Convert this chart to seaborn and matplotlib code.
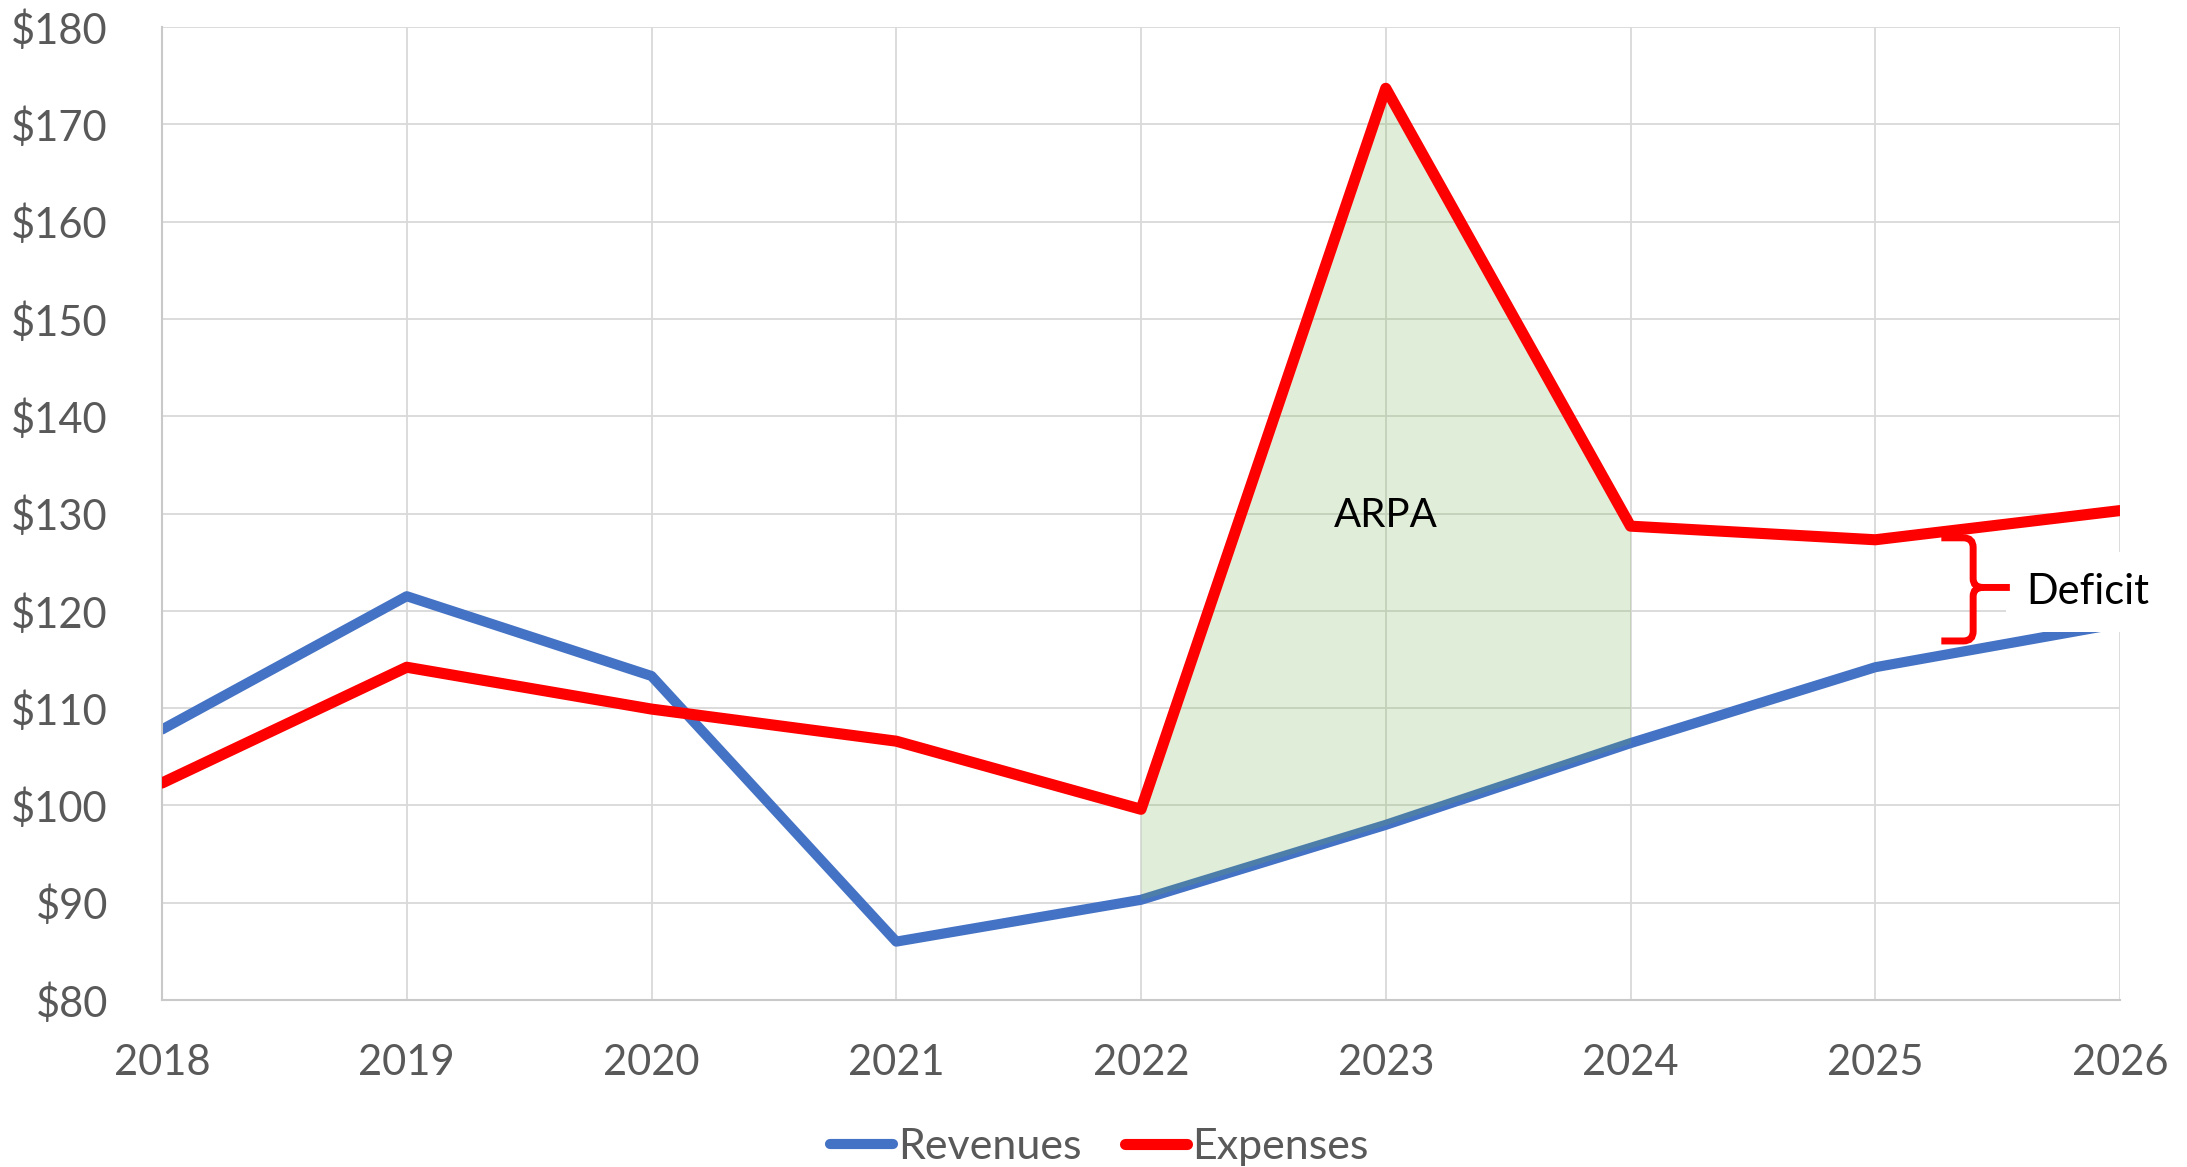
import matplotlib
matplotlib.use("Agg")
import matplotlib.pyplot as plt
import seaborn as sns
import pandas as pd
from matplotlib.path import Path
from matplotlib.patches import PathPatch

# ---- data ----
years = [2018, 2019, 2020, 2021, 2022, 2023, 2024, 2025, 2026]
revenues = [107.8, 121.5, 113.3, 86.0, 90.3, 98.0, 106.4, 114.2, 118.7]
expenses = [102.3, 114.2, 109.9, 106.6, 99.6, 173.7, 128.7, 127.3, 130.3]
series_names = ["Revenues", "Expenses"]
y_ticks = [80, 90, 100, 110, 120, 130, 140, 150, 160, 170, 180]
y_tick_labels = ["$80", "$90", "$100", "$110", "$120", "$130", "$140",
                 "$150", "$160", "$170", "$180"]
arpa_years = years[4:7]
arpa_label = "ARPA"
deficit_label = "Deficit"

sns.set_theme(style="white")
plt.rcParams["font.family"] = ["Lato", "DejaVu Sans"]

df = pd.DataFrame({
    "Year": years * 2,
    "Value": revenues + expenses,
    "Series": [series_names[0]] * len(years) + [series_names[1]] * len(years),
})

W, H = 2187, 1167
fig = plt.figure(figsize=(W / 100, H / 100), dpi=100)
ax = fig.add_axes([162 / W, 1 - 1000 / H, (2120 - 162) / W, (1000 - 27) / H])

palette = {"Revenues": "#4472C4", "Expenses": "#FF0000"}
sns.lineplot(data=df, x="Year", y="Value", hue="Series", palette=palette,
             linewidth=7.5, ax=ax, sort=False)

for ln in ax.lines:
    ln.set_solid_joinstyle("round")
ax.lines[0].set_zorder(2)
ax.lines[0].set_linewidth(7.3)
ax.lines[1].set_zorder(4)
ax.lines[1].set_linewidth(8.0)

# ARPA shaded area (semi-transparent, on top of revenues line)
i0, i1 = years.index(arpa_years[0]), years.index(arpa_years[-1]) + 1
ax.fill_between(arpa_years, revenues[i0:i1], expenses[i0:i1],
                color="#70AD47", alpha=0.21, linewidth=0, zorder=3)

ax.set_xlim(years[0], years[-1])
ax.set_ylim(y_ticks[0], y_ticks[-1])
ax.set_xticks(years)
ax.set_xticklabels([str(y) for y in years])
ax.set_yticks(y_ticks)
ax.set_yticklabels(y_tick_labels)
ax.set_xlabel("")
ax.set_ylabel("")

ax.grid(True, color="#d9d9d9", linewidth=1.3)
ax.set_axisbelow(True)
for s in ["top", "right"]:
    ax.spines[s].set_visible(False)
for s in ["left", "bottom"]:
    ax.spines[s].set_color("#c9c9c9")
    ax.spines[s].set_linewidth(1.5)

ax.tick_params(axis="y", length=0, pad=39, labelsize=30, labelcolor="#595959")
ax.tick_params(axis="x", length=0, pad=32, labelsize=30, labelcolor="#595959")

# annotations
ax.text(2023.0, 129.8, arpa_label, ha="center", va="center", fontsize=29,
        color="black", zorder=5)
ax.text(2025.87, 121.9, deficit_label, ha="center", va="center", fontsize=30,
        color="black", zorder=5, clip_on=False,
        bbox=dict(facecolor="white", edgecolor="none", boxstyle="square,pad=0.5"))

# curly brace
x0, xs, xt = 2025.27, 2025.40, 2025.55
top, mid, bot = 127.5, 122.4, 116.9
verts = [
    (x0, top), (2025.36, top),
    (xs, top), (xs, top - 1.0),
    (xs, mid + 0.9),
    (xs, mid), (2025.44, mid),
    (xt, mid),
    (2025.44, mid),
    (xs, mid), (xs, mid - 0.9),
    (xs, bot + 1.0),
    (xs, bot), (2025.36, bot),
    (x0, bot),
]
codes = [Path.MOVETO, Path.LINETO,
         Path.CURVE3, Path.CURVE3,
         Path.LINETO,
         Path.CURVE3, Path.CURVE3,
         Path.LINETO,
         Path.MOVETO,
         Path.CURVE3, Path.CURVE3,
         Path.LINETO,
         Path.CURVE3, Path.CURVE3,
         Path.LINETO]
brace = PathPatch(Path(verts, codes), facecolor="none", edgecolor="#FF0000",
                  linewidth=5, zorder=6, clip_on=False, capstyle="butt")
ax.add_patch(brace)

# legend
handles, labels = ax.get_legend_handles_labels()
if ax.get_legend() is not None:
    ax.get_legend().remove()
leg = fig.legend(handles, labels, loc="center",
                 bbox_to_anchor=(0.5 + 6 / W, 20 / H),
                 ncol=2, frameon=False, fontsize=31, handlelength=1.45,
                 handletextpad=0.12, columnspacing=1.0, labelcolor="#595959")
for h, lw in zip(leg.legend_handles, [7.3, 8.0]):
    h.set_solid_capstyle("round")
    h.set_linewidth(lw)

fig.savefig("out.png", dpi=100)
